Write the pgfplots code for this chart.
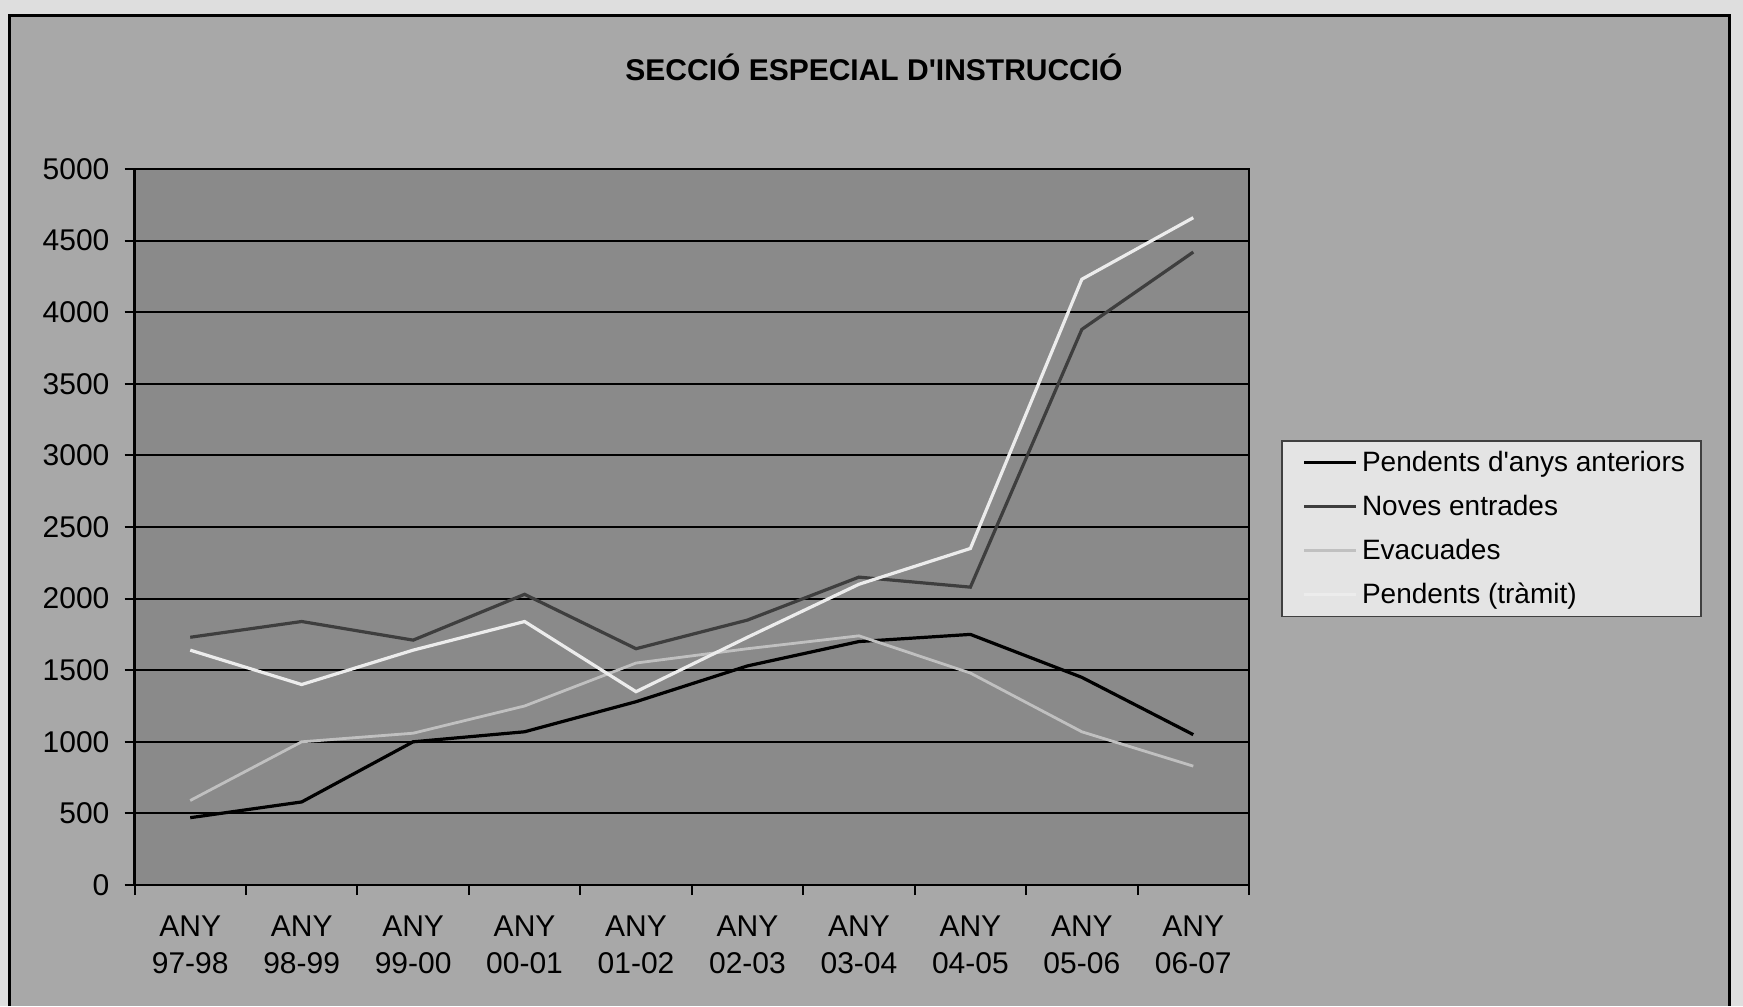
\documentclass[border=0pt]{standalone}
\usepackage{pgfplots}
\pgfplotsset{compat=1.18}
\usepackage{fontspec}
\setmainfont{Liberation Sans}

\definecolor{pagebg}{RGB}{222,222,222}
\definecolor{chartbg}{RGB}{168,168,168}
\definecolor{plotbg}{RGB}{138,138,138}
\definecolor{noves}{RGB}{62,62,62}
\definecolor{evac}{RGB}{192,192,192}
\definecolor{tramit}{RGB}{236,236,236}
\definecolor{legbg}{RGB}{228,228,228}

% x: 0 = ANY 97-98 ... 9 = ANY 06-07
\pgfplotstableread{
x anteriors noves evacuades tramit
0  470 1730  590 1640
1  580 1840 1000 1400
2 1000 1710 1060 1640
3 1070 2030 1250 1840
4 1280 1650 1550 1350
5 1530 1850 1650 1730
6 1700 2150 1740 2100
7 1750 2080 1480 2350
8 1450 3880 1070 4230
9 1050 4420  830 4660
}\dades

\begin{document}
\begin{tikzpicture}
\fill[pagebg] (0,0) rectangle (871.5pt,503pt);
\fill[chartbg] (4.5pt,0) rectangle (864.5pt,495pt);
\draw[black, line width=1.5pt] (4.5pt,0) -- (4.5pt,495pt) -- (864.5pt,495pt) -- (864.5pt,0);
\node[font=\bfseries\fontsize{15}{18}\selectfont] at (437pt,469.5pt) {SECCIÓ ESPECIAL D\textquotesingle INSTRUCCIÓ};

\begin{axis}[
    at={(67.25pt,60.5pt)}, anchor=south west,
    scale only axis,
    width=557.25pt, height=358pt,
    xmin=-0.5, xmax=9.5,
    ymin=0, ymax=5000,
    axis background/.style={fill=plotbg},
    axis line style={black, line width=1.2pt},
    tick pos=left,
    xtick={0,...,9},
    xticklabels={{ANY\\97-98},{ANY\\98-99},{ANY\\99-00},{ANY\\00-01},{ANY\\01-02},
                 {ANY\\02-03},{ANY\\03-04},{ANY\\04-05},{ANY\\05-06},{ANY\\06-07}},
    major x tick style={draw=none},
    minor xtick={-0.5,0.5,...,9.5},
    minor x tick style={draw=black, line width=1pt},
    minor tick length=5pt,
    ytick={0,500,...,5000},
    ytick style={black, line width=1pt},
    major tick length=5pt,
    tick align=outside,
    scaled y ticks=false,
    /pgf/number format/1000 sep={},
    /pgf/number format/assume math mode=true,
    xticklabel style={align=center, font=\fontsize{15}{18.5}\selectfont, yshift=-7pt},
    yticklabel style={font=\fontsize{15}{18}\selectfont, xshift=-4pt},
    ymajorgrids=true,
    major grid style={black, line width=1pt},
    legend cell align=left,
    legend image code/.code={\path (0pt,0pt); \draw[#1] (4.4pt,0pt) -- (30.5pt,0pt);},
    legend style={at={(1.0287,0.6215)}, anchor=north west,
        fill=legbg, draw=black!75, line width=0.8pt,
        font=\fontsize{14}{16}\selectfont,
        inner xsep=6pt, inner ysep=3pt, row sep=6.4pt},
]
\addplot[black, line width=1.6pt] table[x=x, y=anteriors] {\dades};
\addlegendentry{Pendents d\textquotesingle anys anteriors\hspace{9pt}}
\addplot[noves, line width=1.6pt] table[x=x, y=noves] {\dades};
\addlegendentry{Noves entrades}
\addplot[evac, line width=1.4pt] table[x=x, y=evacuades] {\dades};
\addlegendentry{Evacuades}
\addplot[tramit, line width=1.6pt] table[x=x, y=tramit] {\dades};
\addlegendentry{Pendents (tràmit)}
\end{axis}
\pgfresetboundingbox
\path (0,0) rectangle (871.5pt,503pt);
\end{tikzpicture}
\end{document}
